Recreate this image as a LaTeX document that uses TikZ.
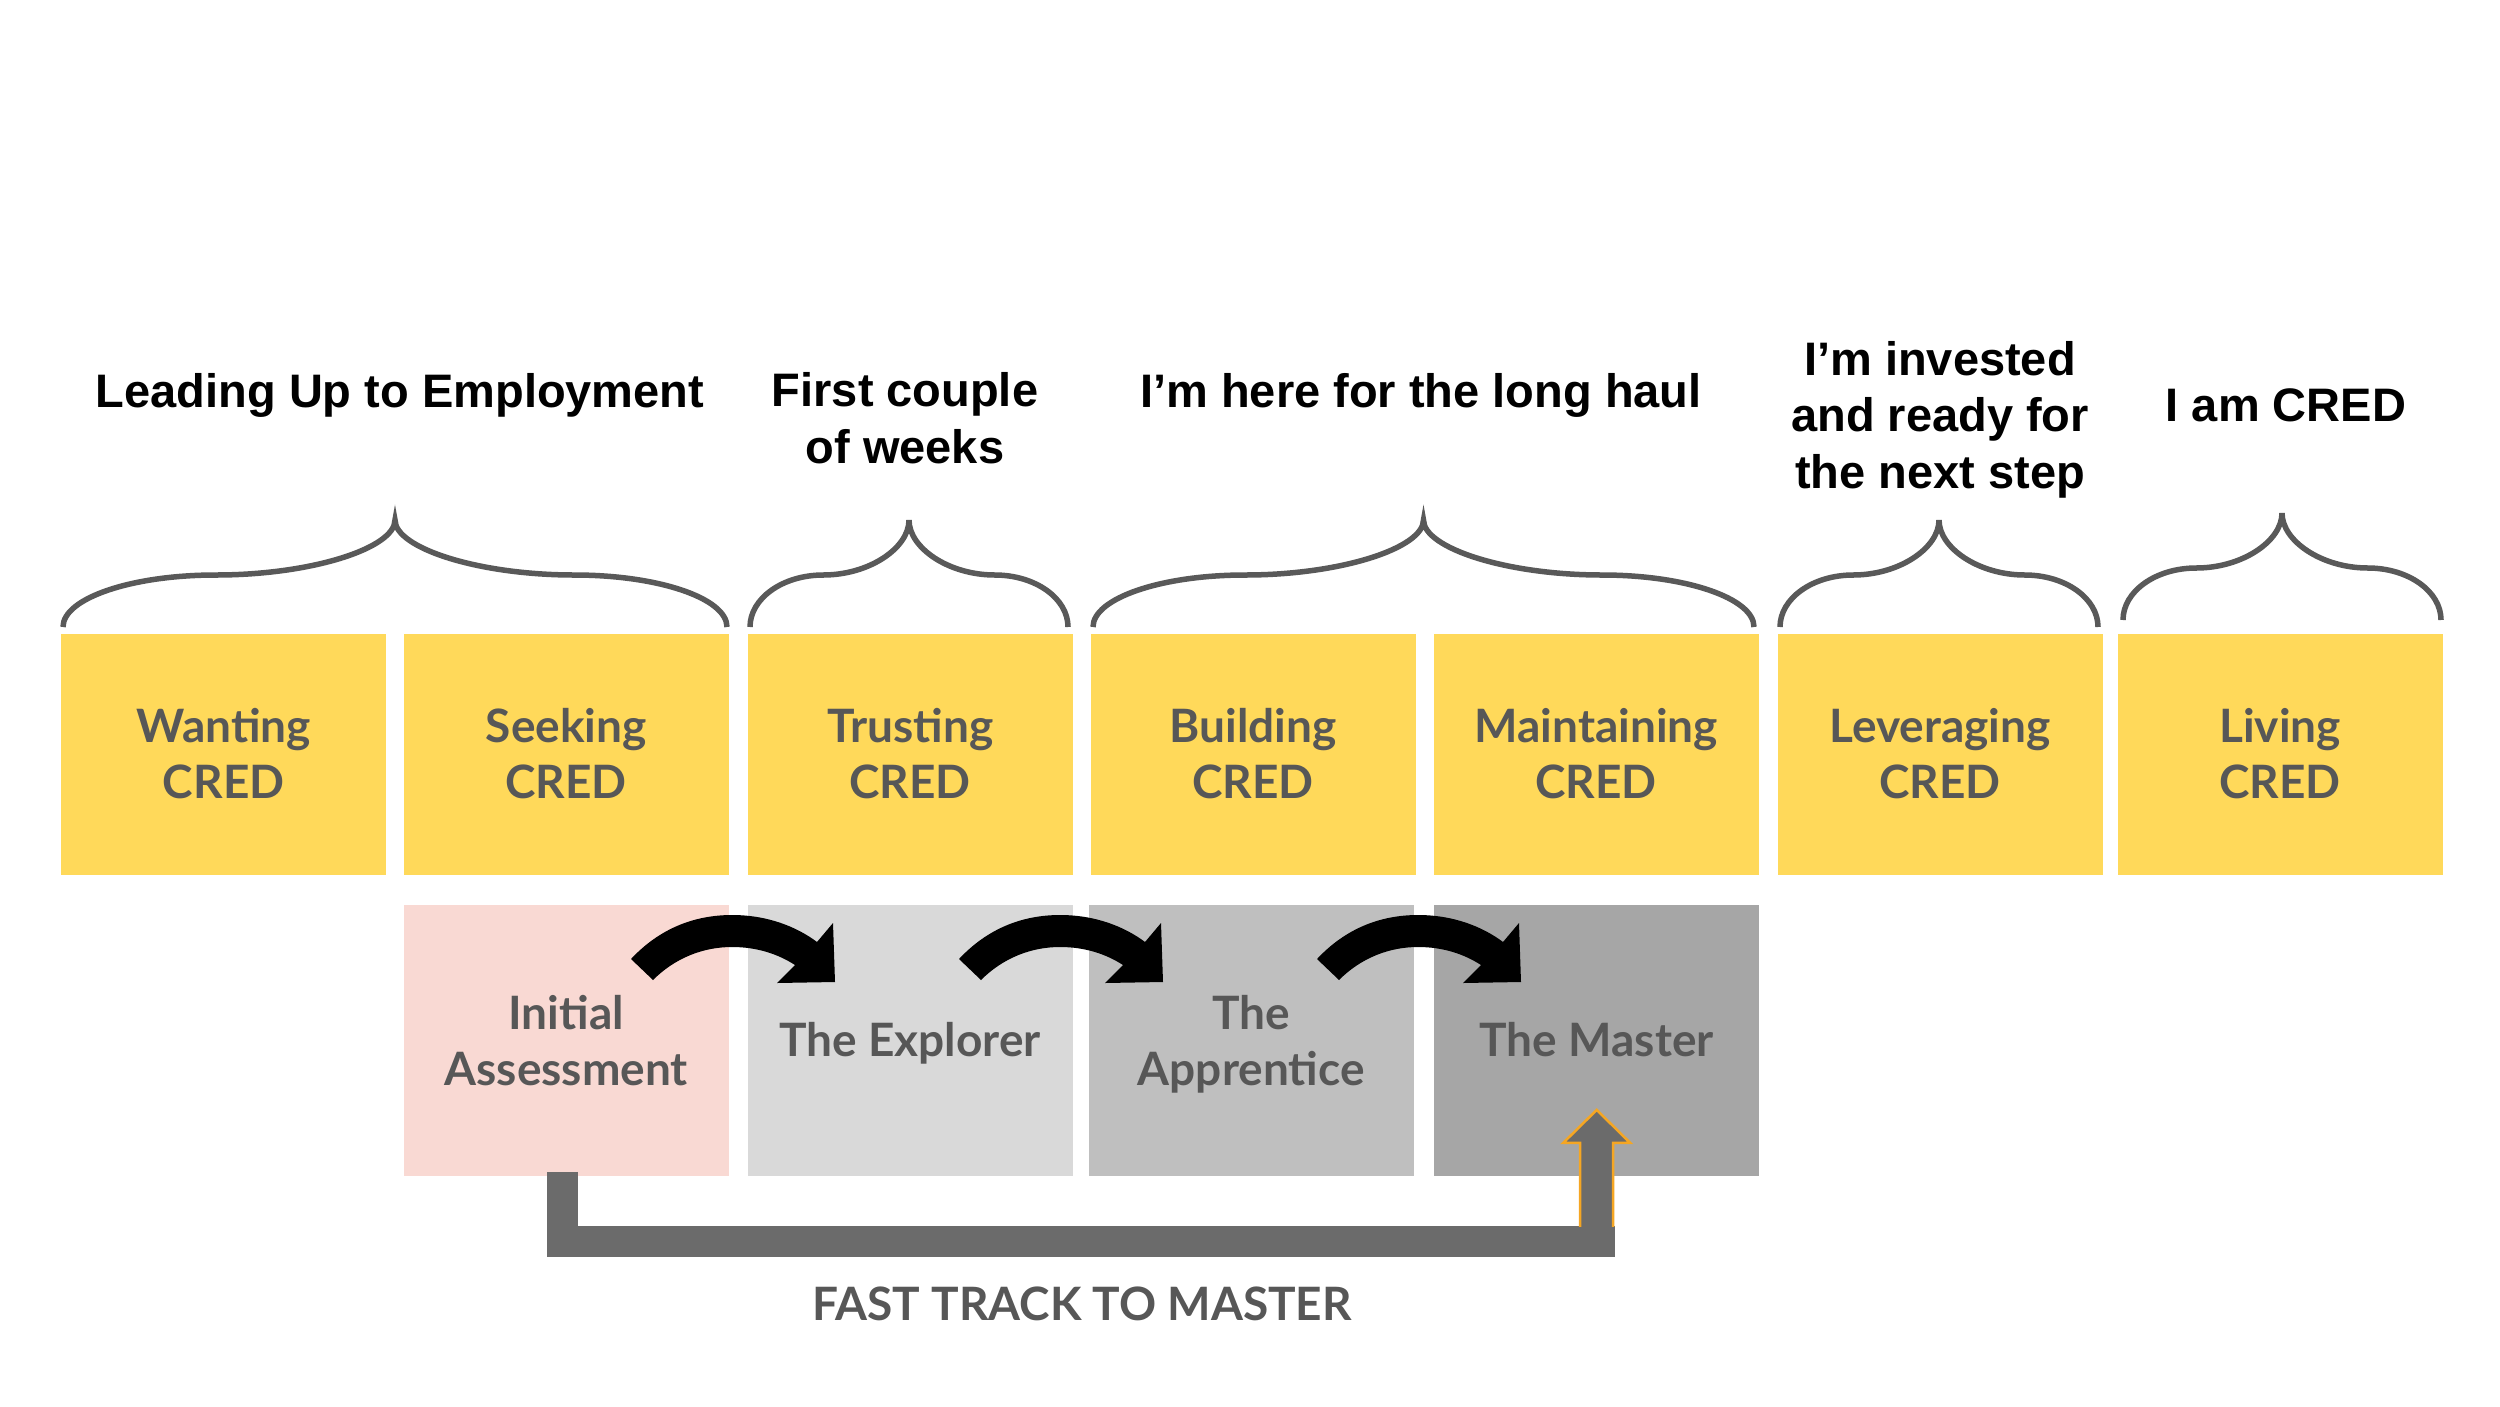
\documentclass[tikz,border=0pt]{standalone}
\usepackage{fontspec}
\setmainfont{Lato}
\newfontfamily\latosb{Lato Semibold}
\newfontfamily\latob{Lato Bold}
\newfontfamily\arialf{Liberation Sans}
\usetikzlibrary{calc}
\definecolor{credyellow}{HTML}{FFD95A}
\definecolor{credpink}{HTML}{F9D9D3}
\definecolor{grayA}{HTML}{D9D9D9}
\definecolor{grayB}{HTML}{BFBFBF}
\definecolor{grayC}{HTML}{A6A6A6}
\definecolor{txtgray}{HTML}{575757}
\definecolor{bracegray}{HTML}{595959}
\definecolor{ftgray}{HTML}{6B6B6B}
\definecolor{ftorange}{HTML}{F5A623}
\newcommand{\credbrace}[3]{%
  \pgfmathsetmacro{\bh}{(#2-#1)/2}%
  \pgfmathsetmacro{\bc}{#1+\bh}%
  \pgfmathsetmacro{\bym}{#3-52}%
  \pgfmathsetmacro{\byt}{#3-107}%
  \pgfmathsetmacro{\byk}{#3-28.7}%
  \pgfmathsetmacro{\byq}{#3-79}%
  \draw[bracestyle] (#1,#3) .. controls (#1,\byk) and ({#1+0.206*\bh},\bym) .. ({#1+0.46*\bh},\bym)
    .. controls ({#1+0.75*\bh},\bym) and (\bc,\byq) .. (\bc,\byt)
    .. controls (\bc,\byq) and ({#2-0.75*\bh},\bym) .. ({#2-0.46*\bh},\bym)
    .. controls ({#2-0.206*\bh},\bym) and (#2,\byk) .. (#2,#3);}
\begin{document}
\begin{tikzpicture}[x=1pt,y=-1pt,
  ybox/.style={fill=credyellow,minimum width=325pt,minimum height=241pt,inner sep=0pt,anchor=north west},
  gbox/.style={minimum width=325pt,minimum height=271pt,inner sep=0pt,anchor=north west},
  boxtext/.style={anchor=base,inner sep=0pt,text=txtgray,align=center,font=\latob\fontsize{46}{56}\selectfont},
  title/.style={anchor=base,inner sep=0pt,align=center,text=black,font=\arialf\bfseries\fontsize{47}{56.3}\selectfont},
  bracestyle/.style={draw=bracegray,line width=5.5pt,line cap=butt},
  curvearrow/.style={fill=black},
  ftline/.style={draw=ftgray,line width=31pt,line join=miter,line cap=butt},
]
\useasboundingbox (0,0) rectangle (2500,1406);
\fill[white] (0,0) rectangle (2500,1406);

% yellow boxes
\node[ybox] (wa) at (61,633.5)   {};
\node[ybox] (se) at (403.5,633.5) {};
\node[ybox] (tr) at (747.5,633.5) {};
\node[ybox] (bu) at (1090.5,633.5){};
\node[ybox] (mt) at (1433.5,633.5){};
\node[ybox] (le) at (1777.5,633.5){};
\node[ybox] (li) at (2117.5,633.5){};
\foreach \n/\t in {wa/Wanting,se/Seeking,tr/Trusting,bu/Building,mt/Maintaining,le/Leveraging,li/Living}
  \node[boxtext] (\n-t) at ($(\n.center)+(0,44.6)$) {\t\\CRED};

% gray boxes
\node[gbox,fill=credpink] (ia) at (403.5,904.5) {};
\node[gbox,fill=grayA] (ex) at (747.5,904.5) {};
\node[gbox,fill=grayB] (ap) at (1088.5,904.5) {};
\node[gbox,fill=grayC] (ms) at (1434,904.5) {};
\node[boxtext] (ia-t) at ($(ia.center)+(0,45)$) {Initial\\Assessment};
\node[boxtext] (ex-t) at ($(ex.center)+(0,16)$) {The Explorer};
\node[boxtext] (ap-t) at ($(ap.center)+(0,45)$) {The\\Apprentice};
\node[boxtext] (ms-t) at ($(ms.center)+(0,16)$) {The Master};

% braces
\credbrace{63}{727}{627}
\credbrace{750}{1068}{627}
\credbrace{1093}{1754}{627}
\credbrace{1780}{2098}{627}
\credbrace{2123}{2441}{620}

% titles (coordinates are baselines of the last line)
\node[title] (t1) at (400,407.5) {Leading Up to Employment};
\node[title] (t2) at (905,463) {First couple\\of weeks};
\node[title] (t3) at (1421,407.5) {I’m here for the long haul};
\node[title] (t4) at (1940,488) {I’m invested\\and ready for\\the next step};
\node[title] (t5) at (2286,421) {I am CRED};

% curved arrows
\foreach \dx in {0,328,686}{
\begin{scope}[xshift=\dx pt]
\fill[curvearrow] (631,959) .. controls (660,928) and (695,915) .. (732,915)
  .. controls (768,915) and (797,927) .. (817,942) -- (833,923) -- (835,982) -- (777,983)
  -- (795,965) .. controls (778,954) and (757,947) .. (732,947)
  .. controls (703,947) and (675,958) .. (653,980) -- cycle;
\end{scope}}

% fast track
\coordinate (fty) at (0,1241);
\draw[ftline] ([xshift=-4pt,yshift=4pt]ia.south) -- ([xshift=-4pt]ia.south |- fty) -- ([xshift=18.5pt]ms.south |- fty);
\fill[ftgray] ($(ms.south)+(-16.5,51)$) -- ++(0,-84) -- ++(-17,0) -- ++(33.5,-33) -- ++(33.5,33) -- ++(-17,0) -- ++(0,84) -- cycle;
\draw[ftorange,line width=2.5pt,line join=miter] ($(ms.south)+(-16.5,51)$) -- ++(0,-84) -- ++(-17,0) -- ++(33.5,-33) -- ++(33.5,33) -- ++(-17,0) -- ++(0,84);
\node[anchor=base,inner sep=0pt,text=txtgray,font=\latob\fontsize{46}{56}\selectfont] (ftl) at (1082,1320.5) {FAST TRACK TO MASTER};
\end{tikzpicture}
\end{document}
